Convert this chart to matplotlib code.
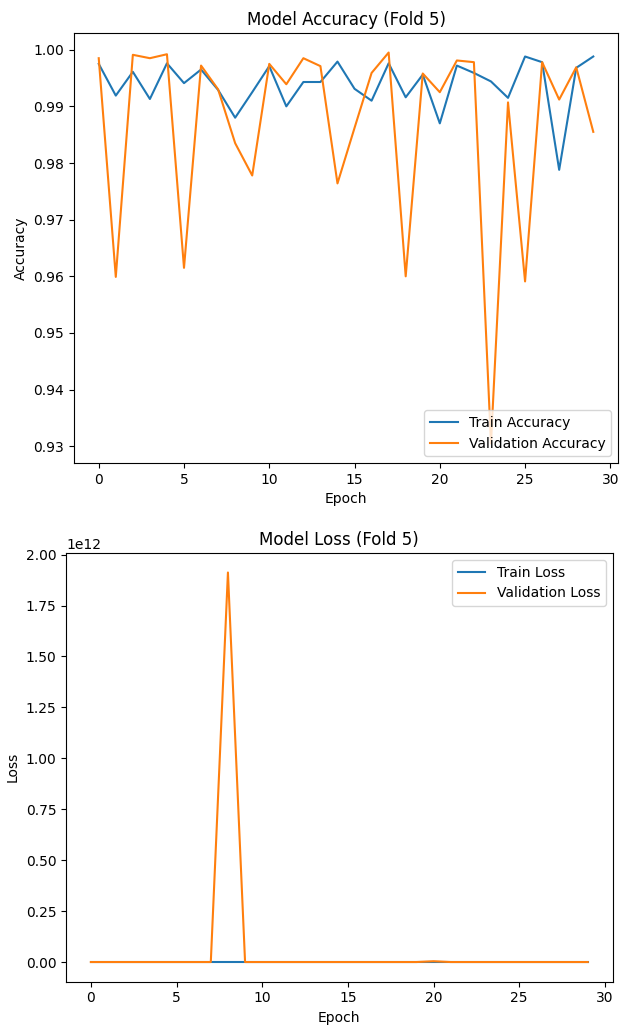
import matplotlib
matplotlib.use("Agg")
import matplotlib.pyplot as plt

epochs = list(range(30))

train_acc = [0.9975, 0.9919, 0.9961, 0.9913, 0.9976, 0.9941, 0.9965, 0.9929, 0.9880, 0.9925,
             0.9971, 0.9900, 0.9943, 0.9943, 0.9979, 0.9931, 0.9910, 0.9976, 0.9916, 0.9956,
             0.9870, 0.9972, 0.9959, 0.9944, 0.9915, 0.9988, 0.9978, 0.9788, 0.9968, 0.9988]

val_acc = [0.9985, 0.9599, 0.9991, 0.9985, 0.9992, 0.9615, 0.9972, 0.9930, 0.9835, 0.9778,
           0.9975, 0.9939, 0.9985, 0.9971, 0.9764, 0.9862, 0.9959, 0.9995, 0.9600, 0.9958,
           0.9925, 0.9981, 0.9978, 0.9305, 0.9907, 0.9591, 0.9978, 0.9912, 0.9969, 0.9855]

train_loss = [0.012, 0.030, 0.015, 0.028, 0.010, 0.022, 0.013, 0.025, 0.040, 0.027,
              0.011, 0.033, 0.020, 0.020, 0.009, 0.024, 0.031, 0.010, 0.029, 0.016,
              0.045, 0.011, 0.015, 0.019, 0.030, 0.006, 0.009, 0.070, 0.012, 0.006]

val_loss = [0.01, 0.15, 0.005, 0.008, 0.004, 0.14, 0.01, 0.03, 1.912e12, 0.09,
            0.01, 0.02, 0.006, 0.01, 0.08, 0.05, 0.015, 0.003, 0.15, 0.02,
            4.0e9, 0.008, 0.009, 0.30, 0.04, 0.16, 0.009, 0.03, 0.011, 0.05]

fig = plt.figure(figsize=(6.24, 10.31), dpi=100)

# accuracy
ax1 = fig.add_axes([0.1186, 0.5509, 0.8718, 0.4171])
ax1.plot(epochs, train_acc, label='Train Accuracy')
ax1.plot(epochs, val_acc, label='Validation Accuracy')
ax1.set_title('Model Accuracy (Fold 5)')
ax1.set_xlabel('Epoch')
ax1.set_ylabel('Accuracy')
ax1.legend(loc='lower right')

# loss
ax2 = fig.add_axes([0.1058, 0.0480, 0.8759, 0.4156])
ax2.plot(epochs, train_loss, label='Train Loss')
ax2.plot(epochs, val_loss, label='Validation Loss')
ax2.set_title('Model Loss (Fold 5)')
ax2.set_xlabel('Epoch')
ax2.set_ylabel('Loss')
ax2.legend(loc='upper right')

fig.savefig('out.png', dpi=100)
